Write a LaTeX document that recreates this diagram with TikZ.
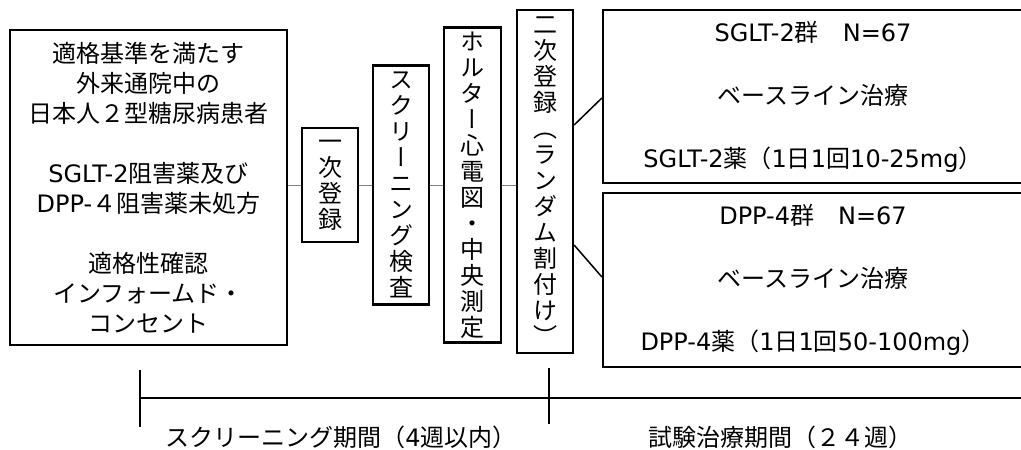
\documentclass[tikz,border=0pt]{standalone}
\usepackage{fontspec}
\setmainfont{Noto Sans CJK JP}
\newfontfamily\vfont{Noto Sans CJK JP}[RawFeature=+vert]
\newfontfamily\lat{DejaVu Sans}
\tikzset{
  box/.style={draw, line width=2.2pt, inner sep=0pt, align=center, font=\fontsize{24pt}{30pt}\selectfont},
  gbox/.style={draw, line width=2.2pt, inner sep=0pt, align=center, font=\fontsize{24pt}{63pt}\selectfont},
  vbox/.style={draw, line width=2.2pt, inner sep=0pt, align=center, font=\vfont\fontsize{24pt}{26pt}\selectfont},
  link/.style={draw=gray, line width=0.8pt},
  arm/.style={line width=1.5pt},
  tl/.style={line width=2.4pt},
  lbl/.style={inner sep=0pt, font=\fontsize{24pt}{28pt}\selectfont}
}
\begin{document}
\begin{tikzpicture}[x=1pt, y=-1pt]
\useasboundingbox (0,0) rectangle (1021,450);
% left box
\node[box, minimum width=277pt, minimum height=315pt] (L) at (148.5,187.5)
  {適格基準を満たす\\外来通院中の\\日本人２型糖尿病患者\\[30pt]{\lat SGLT-2}阻害薬及び\\{\lat DPP-}４阻害薬未処方\\[30pt]適格性確認\\インフォームド・\\コンセント};
% vertical boxes
\node[vbox, minimum width=56pt, minimum height=114pt] (A) at (330,185) {一\\次\\登\\録};
\node[vbox, minimum width=56pt, minimum height=239pt] (B) at (401,185) {ス\\ク\\リ\\ー\\ニ\\ン\\グ\\検\\査};
\node[vbox, minimum width=57pt, minimum height=315pt] (C) at (472.5,185) {ホ\\ル\\タ\\ー\\心\\電\\図\\・\\中\\央\\測\\定};
\node[vbox, minimum width=56pt, minimum height=343pt] (D) at (545,181.5) {二\\次\\登\\録\\（\\ラ\\ン\\ダ\\ム\\割\\付\\け\\）};
% group boxes
\node[gbox, minimum width=420pt, minimum height=173pt] (G1) at (813,96.5)
  {{\lat SGLT-2}群　{\lat N=67}\\ベースライン治療\\{\lat SGLT-2}薬（{\lat 1}日{\lat 1}回{\lat 10-25mg}）};
\node[gbox, minimum width=420pt, minimum height=174pt] (G2) at (813,280)
  {{\lat DPP-4}群　{\lat N=67}\\ベースライン治療\\{\lat DPP-4}薬（{\lat 1}日{\lat 1}回{\lat 50-100mg}）};
% connectors
\draw[link] (L.east |- A.west) -- (A.west);
\draw[link] (A.east) -- (B.west);
\draw[link] (B.east) -- (C.west);
\draw[link] (C.east) -- (D.west |- C.east);
\draw[arm] (D.east |- 0,125) -- (G1.west |- 0,98);
\draw[arm] (D.east |- 0,245) -- (G2.west |- 0,277);
% timeline
\coordinate (t0) at (140,398);
\coordinate (t1) at (549,398);
\coordinate (tE) at (1030,398);
\draw[tl] (t0) -- (tE);
\draw[tl] ([yshift=28pt]t0) -- ([yshift=-29pt]t0);
\draw[tl] ([yshift=30pt]t1) -- ([yshift=-26pt]t1);
\node[lbl] (p1) at (341,437) {スクリーニング期間（{\lat 4}週以内）};
\node[lbl] (p2) at (780,437) {試験治療期間（２４週）};
\end{tikzpicture}
\end{document}
